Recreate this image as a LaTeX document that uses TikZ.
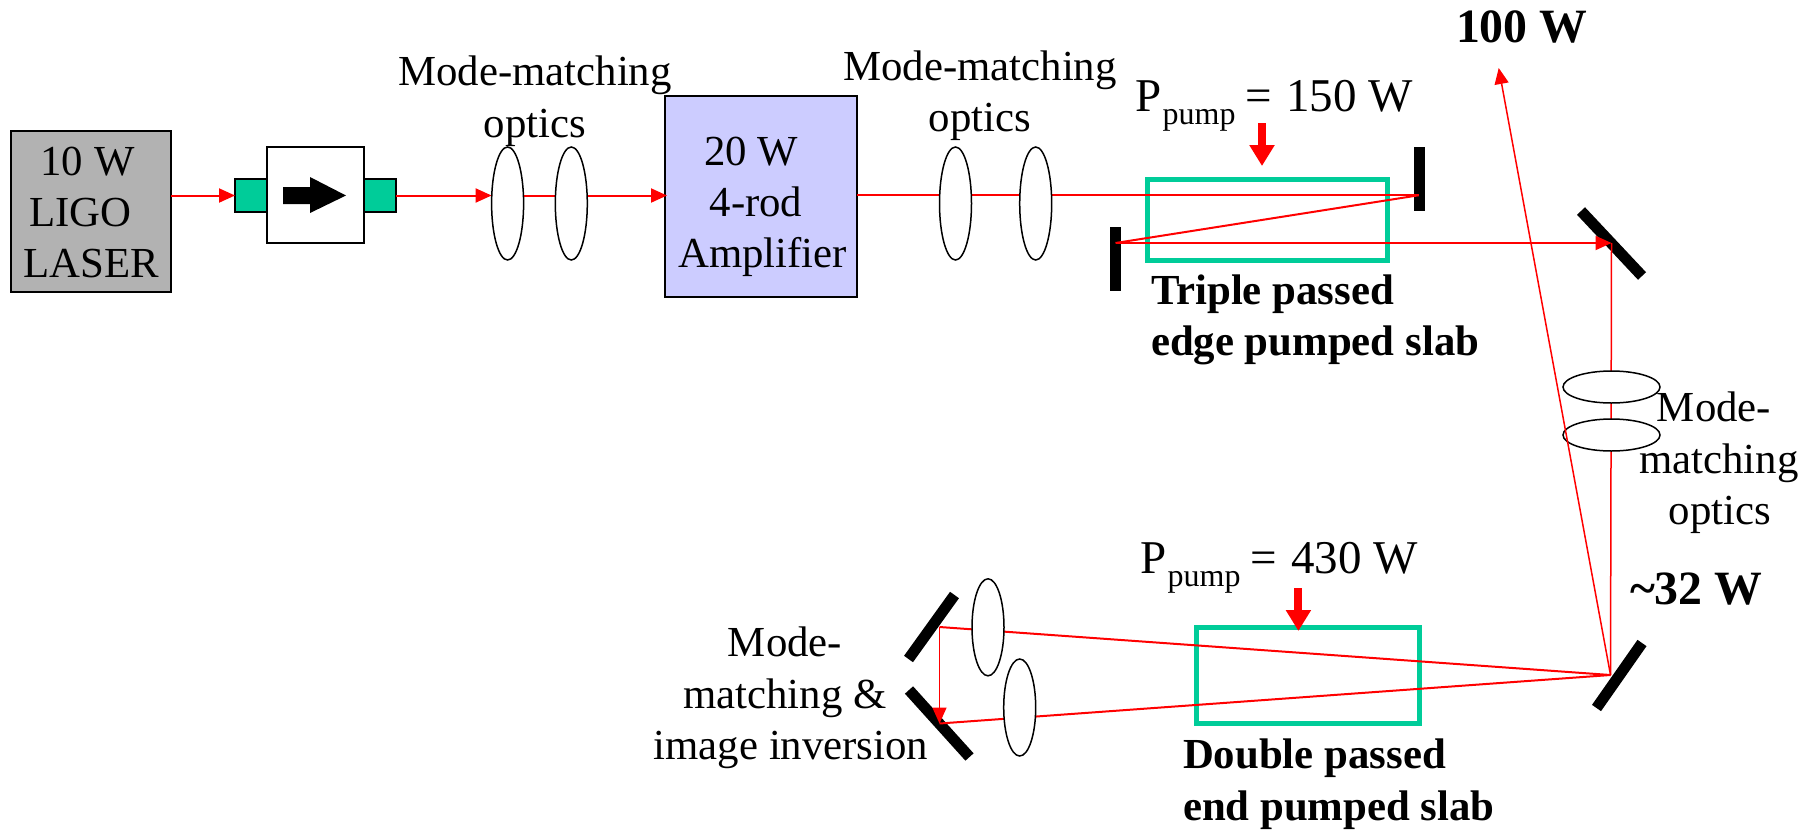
\documentclass[tikz,border=0pt]{standalone}
\usepackage{fontspec}
\setmainfont{Liberation Serif}
\usetikzlibrary{arrows.meta,shapes.geometric}
\definecolor{slabgreen}{HTML}{00CC99}
\definecolor{ampblue}{HTML}{CCCCFF}
\definecolor{lasergray}{HTML}{B2B2B2}
\tikzset{
  txt/.style={anchor=base,inner sep=0pt,outer sep=0pt,font=\fontsize{42.8}{42.8}\selectfont},
  txtl/.style={txt,anchor=base west,font=\fontsize{47}{47}\selectfont},
  btxt/.style={txt,font=\fontsize{42.8}{42.8}\selectfont\bfseries,anchor=base west},
  bigbtxt/.style={btxt,font=\fontsize{47.8}{47.8}\selectfont\bfseries},
  boxnode/.style={rectangle,draw=black,inner sep=0pt,outer sep=0pt},
  lens/.style={ellipse,draw=black,fill=white,line width=1.5pt,inner sep=0pt,outer sep=0pt},
  vlens/.style={lens,minimum width=32pt,minimum height=113pt},
  vlensb/.style={lens,minimum width=32pt,minimum height=97pt},
  hlens/.style={lens,minimum width=97pt,minimum height=32pt},
  slab/.style={boxnode,draw=slabgreen,line width=5pt},
  mirror/.style={draw=black,line width=11pt},
  beam/.style={draw=red,line width=2pt},
  thinbeam/.style={draw=red,line width=1.5pt},
  head/.style={-{Triangle[length=16pt,width=14pt]}},
  pumparrow/.style={draw=red,line width=8pt,-{Triangle[length=21pt,width=24pt]}}
}
\newcommand{\ppump}[1]{P\hspace{1pt}\raisebox{-13pt}{\fontsize{32}{32}\selectfont pump}\hspace{10pt}=\hspace{14pt}#1}
\begin{document}
\begin{tikzpicture}[x=1pt,y=-1pt]
\useasboundingbox (0,0) rectangle (1812,830);
% boxes
\node[boxnode,fill=lasergray,line width=2.5pt,minimum width=160pt,minimum height=161pt] (laser) at (91,211.5) {};
\node[boxnode,fill=ampblue,line width=2.5pt,minimum width=192pt,minimum height=201pt] (amp) at (761,196.5) {};
\node[boxnode,fill=slabgreen,line width=1.5pt,minimum width=32pt,minimum height=33pt] (greenA) at (251,195.5) {};
\node[boxnode,fill=slabgreen,line width=1.5pt,minimum width=32pt,minimum height=33pt] (greenB) at (380,195.5) {};
\node[boxnode,fill=white,line width=1.5pt,minimum width=97pt,minimum height=96pt] (iso) at (315.5,195) {};
\fill[black] (283,187) -- (310,187) -- (310,177) -- (346,195.5) -- (310,213) -- (310,204) -- (283,204) -- cycle;
% slabs
\node[slab,minimum width=240pt,minimum height=81pt] (slabA) at (1267.5,219.5) {};
\node[slab,minimum width=223pt,minimum height=96pt] (slabB) at (1308,675.5) {};
% mirror reference points and beam hit points
\coordinate (m1) at (1418.6,195.3);
\coordinate (m2) at (1115.5,243);
\coordinate (m3) at (1611.5,243);
\coordinate (m4) at (1610.5,675);
\coordinate (m5) at (939.5,627);
\coordinate (m6) at (939.5,723.5);
\coordinate (out) at (1498.7,68);
% mirrors
\draw[mirror] (1419,147) -- (1419,211);
\draw[mirror] (1115.5,227) -- (1115.5,291);
\draw[mirror] (1581,211) -- (1642,276);
\draw[mirror] (1642,643) -- (1596.5,708);
\draw[mirror] (954.5,595) -- (908.5,659);
\draw[mirror] (909,690) -- (969.5,757);
% beams
\path[beam,head] (laser.east |- greenA.west) -- (greenA.west);
\path[beam,head] (greenB.east) -- (491.6,195.5);
\path[beam,head] (491.6,195.5) -- (667,195.5);
\path[beam] (amp.east |- m1) -- (m1);
\path[beam] (m1) -- (m2);
\path[beam,head] (m2) -- (m3);
\path[thinbeam] (m3) -- (m4);
\path[beam] (m4) -- (m5);
\path[thinbeam,head] (m5) -- (m6);
\path[beam] (m6) -- (m4);
% lenses
\node[vlens] (l1) at (507.6,203.5) {};
\node[vlens] (l2) at (571.3,203.5) {};
\node[vlens] (l3) at (955.5,203.5) {};
\node[vlens] (l4) at (1035.7,203.5) {};
\node[hlens] (l5) at (1611.5,387) {};
\node[hlens] (l6) at (1611.5,435) {};
\node[vlensb] (l7) at (988,627.3) {};
\node[vlensb] (l8) at (1019.7,707.5) {};
% output beam
\path[thinbeam,head] (m4) -- (out);
% pump arrows
\coordinate (pa) at (1262,123);
\coordinate (pb) at (1262,166);
\coordinate (pc) at (1298.4,588);
\coordinate (pd) at (1298.4,631);
\draw[pumparrow] (pa) -- (pb);
\draw[pumparrow] (pc) -- (pd);
% texts
\node[txt] (t1) at (87.5,175.7) {10 W};
\node[txt] (t2) at (80.5,226.7) {LIGO};
\node[txt] (t3) at (91,277) {LASER};
\node[txt] (t4) at (751,165) {20 W};
\node[txt] (t5) at (756,216.7) {4-rod};
\node[txt] (t6) at (762.5,267) {Amplifier};
\node[txt] (t7) at (535,85.7) {Mode-matching};
\node[txt] (t8) at (535,137) {optics};
\node[txt] (t9) at (980,80) {Mode-matching};
\node[txt] (t10) at (980,131) {optics};
\node[txtl] (t11) at (1135.5,111) {\ppump{150 W}};
\node[txtl] (t12) at (1140.5,573) {\ppump{430 W}};
\node[bigbtxt] (t13) at (1456,42.7) {100 W};
\node[btxt] (t14) at (1151,304) {Triple passed};
\node[btxt] (t15) at (1151,355) {edge pumped slab};
\node[txt] (t16) at (1714,421.7) {Mode-};
\node[txt] (t17) at (1719,473) {matching};
\node[txt] (t18) at (1720,524) {optics};
\node[bigbtxt] (t19) at (1630,604) {\textasciitilde32 W};
\node[txt] (t20) at (785,656) {Mode-};
\node[txt] (t21) at (785,708) {matching \&};
\node[txt] (t22) at (791,759) {image inversion};
\node[btxt] (t23) at (1183,768) {Double passed};
\node[btxt] (t24) at (1183,820) {end pumped slab};
\end{tikzpicture}
\end{document}
